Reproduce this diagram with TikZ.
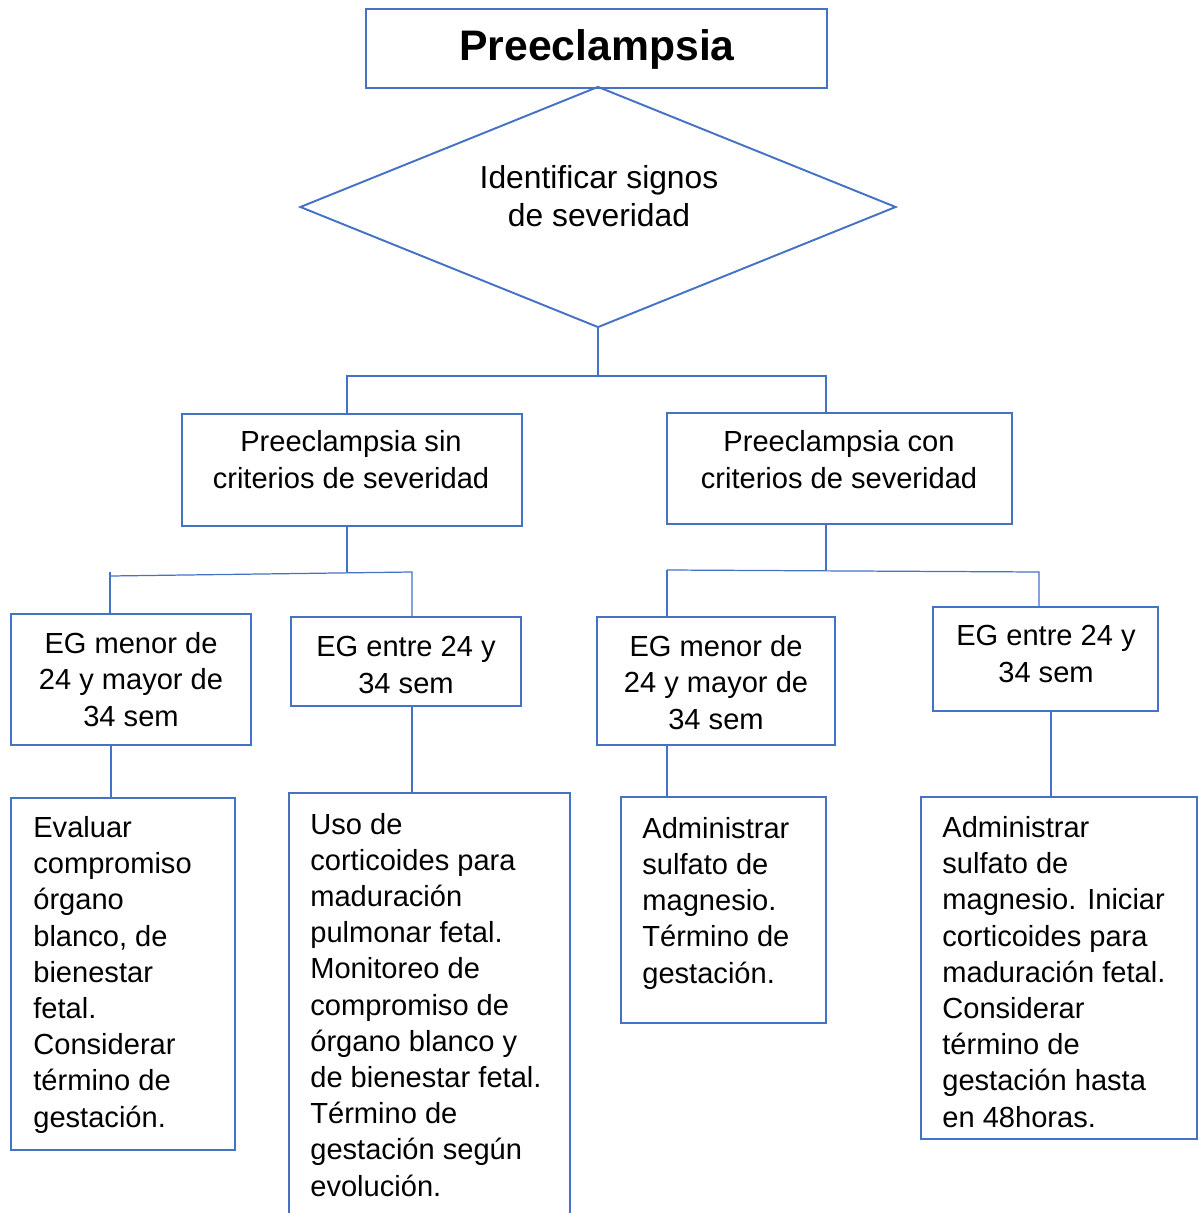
\documentclass[tikz,border=0pt]{standalone}
\usepackage{fontspec}
\setmainfont{Liberation Sans}
\usetikzlibrary{shapes.geometric}
\definecolor{wblue}{HTML}{4472C4}
\newcommand\boxfnt{\fontsize{16.55pt}{20.6pt}\selectfont}
\newcommand\diafnt{\fontsize{18.1pt}{22.1pt}\selectfont}
\newcommand\titfnt{\fontsize{24.3pt}{28pt}\selectfont\bfseries}
\tikzset{
  bx/.style={draw=wblue, line width=1.4pt, inner sep=0pt, rectangle},
  conn/.style={draw=wblue, line width=0.7pt},
  ctxt/.style={font=\boxfnt, inner sep=0pt, align=center, anchor=base},
  ltxt/.style={font=\boxfnt, inner sep=0pt, align=left, anchor=base west},
}
% box: name, x1, y1, x2, y2 (pixels)
\newcommand\pbox[6][]{\node[bx,#1, minimum width={(#5-#3)*0.02cm}, minimum height={(#6-#4)*0.02cm}] (#2) at ({(#3+#5)/2},{(#4+#6)/2}) {};}
\begin{document}
\begin{tikzpicture}[x=0.02cm,y=-0.02cm]
\useasboundingbox (0,0) rectangle (1199,1213);
\clip (0,0) rectangle (1199,1213);
% title
\pbox[line width=1.2pt]{title}{366}{9}{827}{88}
\node[font=\titfnt, inner sep=0pt, anchor=base] (titletxt) at (597,61) {Preeclampsia};
% diamond
\node[diamond, draw=wblue, line width=1.1pt, inner sep=0pt, minimum width={596*0.02cm}, minimum height={241*0.02cm}] (dia) at (598,207) {};
\node[font=\diafnt, inner sep=0pt, align=center, anchor=base] (diatxt) at (599,227) {Identificar signos\\de severidad};
% level 2
\pbox{sin}{182}{414}{522}{526}
\node[ctxt] (sintxt) at (351,488) {Preeclampsia sin\\criterios de severidad};
\pbox{con}{667}{413}{1012}{524}
\node[ctxt] (contxt) at (839,488) {Preeclampsia con\\criterios de severidad};
% level 3
\pbox{A1}{11}{614}{251}{745}
\node[ctxt] (A1txt) at (131,726) {EG menor de\\24 y mayor de\\34 sem};
\pbox{A2}{291}{617}{521}{706}
\node[ctxt] (A2txt) at (406,693) {EG entre 24 y\\34 sem};
\pbox{B1}{597}{617}{835}{745}
\node[ctxt] (B1txt) at (716,729) {EG menor de\\24 y mayor de\\34 sem};
\pbox{B2}{933}{607}{1158}{711}
\node[ctxt] (B2txt) at (1046,682) {EG entre 24 y\\34 sem};
% level 4
\pbox{C1}{11}{798}{235}{1150}
\node[ltxt] (C1txt) at (33,1127) {Evaluar\\compromiso\\órgano\\blanco, de\\bienestar\\fetal.\\Considerar\\término de\\gestación.};
\pbox{C2}{289}{793}{570}{1240}
\node[ltxt] (C2txt) at (310,1196) {Uso de\\corticoides para\\maduración\\pulmonar fetal.\\Monitoreo de\\compromiso de\\órgano blanco y\\de bienestar fetal.\\Término de\\gestación según\\evolución.};
\pbox{C3}{621}{797}{826}{1023}
\node[ltxt] (C3txt) at (642,983) {Administrar\\sulfato de\\magnesio.\\Término de\\gestación.};
\pbox{C4}{921}{797}{1197}{1139}
\node[ltxt] (C4txt) at (942,1127) {Administrar\\sulfato de\\magnesio. Iniciar\\corticoides para\\maduración fetal.\\Considerar\\término de\\gestación hasta\\en 48horas.};
% connector coordinates
\coordinate (j1) at (598,376);
\coordinate (sinN) at (347,414);
\coordinate (conN) at (826,413);
\coordinate (sinS) at (347,526);
\coordinate (j2) at (347,573);
\coordinate (j2l) at (110,576);
\coordinate (j2lt) at (110,572);
\coordinate (j2r) at (412,572);
\coordinate (A1N) at (110,614);
\coordinate (A2N) at (412,617);
\coordinate (conS) at (826,524);
\coordinate (j3) at (826,570);
\coordinate (j3l) at (667,570);
\coordinate (j3r) at (1039,572);
\coordinate (B1N) at (667,617);
\coordinate (B2N) at (1039,607);
\coordinate (A1S) at (111,745);
\coordinate (C1N) at (111,798);
\coordinate (A2S) at (412,706);
\coordinate (C2N) at (412,793);
\coordinate (B1S) at (667,745);
\coordinate (C3N) at (667,797);
\coordinate (B2S) at (1051,711);
\coordinate (C4N) at (1051,797);
% connectors
\draw[conn] (dia.south) -- (j1);
\draw[conn] (j1) -| (sinN);
\draw[conn] (j1) -| (conN);
\draw[conn] (sinS) -- (j2);
\draw[conn] (j2l) -- (j2r) -- (A2N);
\draw[conn] (j2lt) -- (A1N);
\draw[conn] (conS) -- (j3);
\draw[conn] (j3l) -- (j3r) -- (B2N);
\draw[conn] (j3l) -- (B1N);
\draw[conn] (A1S) -- (C1N);
\draw[conn] (A2S) -- (C2N);
\draw[conn] (B1S) -- (C3N);
\draw[conn] (B2S) -- (C4N);
\end{tikzpicture}
\end{document}
